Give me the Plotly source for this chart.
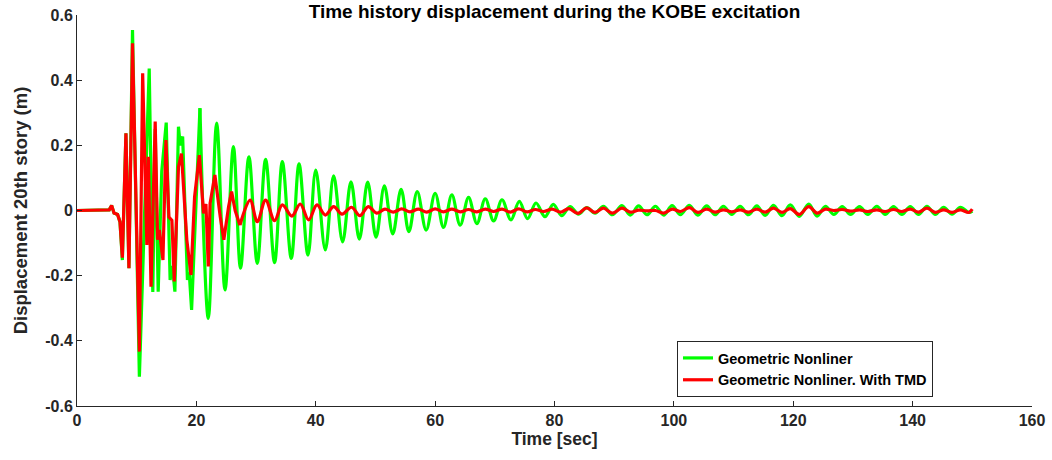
import plotly.graph_objects as go

# Peak / trough samples of the 20th-story displacement (m) versus time (s)
# Geometric nonlinear model without TMD
t_geo = [0, 4.4, 5.4, 5.8, 6.2, 6.8, 7.2, 7.6, 8.2, 8.7, 9.3, 10.45, 12.1, 12.7, 13.1, 13.6,
         14.2, 14.95, 15.6, 16.0, 16.4, 17.0, 17.3, 17.7, 18.5, 18.8, 19.2, 20.6,
         22.0, 23.4, 24.8, 26.2, 27.4, 28.8, 30.2, 31.6, 33.1, 34.4, 35.9, 37.2, 38.7, 40.0,
         41.6, 43.0, 44.5, 45.9, 47.3, 48.7, 50.1, 51.5, 52.9, 54.3, 55.6, 57.0, 58.5, 60.0,
         61.4, 62.8, 64.2, 65.6, 67.0, 68.4, 69.8, 71.2, 72.7, 74.1, 75.5, 76.9, 78.4, 79.8,
         81.2, 82.6, 84.0, 85.4, 86.8, 88.2, 89.7, 91.3, 92.7, 94.1, 95.5, 96.9, 98.3, 99.7,
         101.1, 102.6, 104.0, 105.5, 106.9, 108.3, 109.7, 111.1, 112.5, 113.9, 115.3, 116.7,
         118.1, 119.5, 121.0, 122.6, 124.0, 125.4, 126.8, 128.2, 129.6, 131.1, 132.5, 134.0,
         135.4, 136.8, 138.2, 139.6, 141.0, 142.4, 143.8, 145.2, 146.6, 148.0, 149.4, 150.0]
d_geo = [0, 0, 0.002, 0.015, -0.008, -0.012, -0.035, -0.152, 0.237, -0.177, 0.554, -0.51,
         0.436, -0.25, 0.25, -0.249, 0.12, 0.27, -0.213, -0.17, -0.249, 0.257, 0.2, 0.227,
         -0.213, -0.19, -0.305, 0.314,
         -0.331, 0.268, -0.244, 0.196, -0.177, 0.165, -0.162, 0.157, -0.160, 0.150, -0.147,
         0.143, -0.137, 0.124, -0.121, 0.106, -0.096, 0.088, -0.088, 0.087, -0.082, 0.076,
         -0.072, 0.065, -0.065, 0.058, -0.060, 0.053, -0.052, 0.048, -0.045, 0.040, -0.040,
         0.036, -0.032, 0.033, -0.029, 0.028, -0.025, 0.023, -0.019, 0.019, -0.016, 0.012,
         -0.011, 0.009, -0.008, 0.013, -0.013, 0.015, -0.014, 0.014, -0.013, 0.013, -0.014,
         0.015, -0.013, 0.016, -0.014, 0.014, -0.013, 0.013, -0.012, 0.013, -0.013, 0.014,
         -0.015, 0.016, -0.016, 0.017, -0.018, 0.020, -0.017, 0.013, -0.012, 0.012, -0.012,
         0.012, -0.012, 0.013, -0.012, 0.012, -0.012, 0.012, -0.012, 0.013, -0.012, 0.010,
         -0.011, 0.010, -0.006, -0.002]

# Geometric nonlinear model with tuned mass damper
t_tmd = [0, 4.4, 5.4, 5.8, 6.2, 6.8, 7.2, 7.6, 8.2, 8.7, 9.3, 10.45, 11.0, 11.7, 11.95, 12.4,
         13.1, 13.5, 13.8, 14.4, 14.9, 15.4, 15.9, 16.3, 17.0, 17.5, 18.4, 19.1, 19.7, 20.5,
         21.2, 21.6, 22.0, 22.3, 23.1, 24.0, 24.6, 25.4, 25.9, 26.5, 27.3,
         29.0, 30.2, 31.6, 33.1, 34.4, 36.0, 37.4, 38.8, 40.2, 41.6, 43.0, 44.4, 46.0, 47.4,
         48.8, 50.2, 51.6, 53.0, 54.4, 55.8, 57.2, 58.6, 60.0, 61.4, 62.8, 64.2, 65.6, 67.0,
         68.4, 69.8, 71.2, 72.6, 74.0, 75.4, 76.8, 78.2, 79.6, 81.0, 82.4, 83.9, 85.4, 86.8,
         88.2, 89.7, 91.3, 92.7, 94.1, 95.5, 96.9, 98.3, 99.7, 101.1, 102.6, 104.0, 105.5,
         106.9, 108.3, 109.7, 111.1, 112.5, 113.9, 115.3, 116.7, 118.1, 119.5, 121.0, 122.6,
         124.0, 125.4, 126.8, 128.2, 129.6, 131.1, 132.5, 134.0, 135.4, 136.8, 138.2, 139.6,
         141.0, 142.4, 143.8, 145.2, 146.6, 148.0, 149.4, 150.0]
d_tmd = [0, 0, 0.002, 0.015, -0.008, -0.012, -0.035, -0.145, 0.237, -0.177, 0.513, -0.433,
         0.421, -0.106, 0.165, -0.234, 0.273, -0.09, -0.06, -0.152, 0.216, -0.02, -0.03,
         -0.218, 0.134, 0.175, -0.09, -0.198, 0.042, 0.17, -0.009, 0.02, -0.172, 0.022,
         0.109, -0.019, -0.09, 0.012, 0.058, 0.0, -0.045,
         0.032, -0.034, 0.032, -0.031, 0.017, -0.017, 0.020, -0.029, 0.017, -0.014, 0.012,
         -0.011, 0.010, -0.016, 0.012, -0.008, 0.004, -0.005, 0.005, -0.004, 0.004, -0.005,
         0.005, -0.004, 0.004, -0.004, 0.003, -0.004, 0.004, -0.003, 0.004, -0.005, 0.005,
         -0.004, 0.003, -0.003, 0.004, -0.005, 0.006, -0.009, 0.008, -0.006, 0.007, -0.008,
         0.007, -0.005, 0.001, -0.001, 0.0, -0.008, 0.004, -0.003, 0.009, -0.006, 0.004,
         -0.005, 0.002, -0.004, 0.002, -0.005, 0.004, -0.005, 0.007, -0.006, 0.006, -0.012,
         0.012, -0.008, 0.004, 0.0, 0.003, -0.002, 0.002, -0.003, 0.002, -0.003, 0.003,
         -0.003, 0.004, -0.005, 0.007, -0.006, 0.002, -0.006, 0.002, -0.006, 0.004]

x_ticks = [0, 20, 40, 60, 80, 100, 120, 140, 160]
y_ticks = [-0.6, -0.4, -0.2, 0, 0.2, 0.4, 0.6]
y_tick_text = ["-0.6", "-0.4", "-0.2", "0", "0.2", "0.4", "0.6"]

GREEN = "#00FF00"
RED = "#FF0000"
FONT = "Liberation Sans, Arial, Helvetica, sans-serif"

# Plot-area placement in pixels
W, H = 1052, 460
L, R, T, B = 77, 20, 15, 54
PW, PH = W - L - R, H - T - B


def split_at(t, d, t_split):
    """Split a series into a jagged strong-motion part and a smooth free-vibration part."""
    k = max(i for i, v in enumerate(t) if v <= t_split)
    return (t[:k + 1], d[:k + 1]), (t[k:], d[k:])


fig = go.Figure()

for t, d, color, name, t_split in [
    (t_geo, d_geo, GREEN, "Geometric Nonliner", 20.6),
    (t_tmd, d_tmd, RED, "Geometric Nonliner. With TMD", 27.3),
]:
    (t1, d1), (t2, d2) = split_at(t, d, t_split)
    fig.add_trace(go.Scatter(x=t1, y=d1, mode="lines", name=name, legendgroup=name,
                             line=dict(color=color, width=3.2, shape="linear"),
                             showlegend=True))
    fig.add_trace(go.Scatter(x=t2, y=d2, mode="lines", name=name, legendgroup=name,
                             line=dict(color=color, width=3.2, shape="spline", smoothing=1.0),
                             showlegend=False))

axis_common = dict(
    showgrid=False, zeroline=False, showline=True, linecolor="#262626", linewidth=1,
    ticks="inside", ticklen=5, tickcolor="#262626", automargin=False,
    tickfont=dict(family=FONT, size=16, color="#262626", weight="bold"),
    mirror=False,
)

fig.update_layout(
    width=W, height=H,
    margin=dict(l=L, r=R, t=T, b=B, autoexpand=False),
    paper_bgcolor="white", plot_bgcolor="white",
    title=dict(text="<b>Time history displacement during the KOBE excitation</b>",
               x=(L + PW / 2) / W, xanchor="center", y=1 - 11 / H, yanchor="middle",
               font=dict(family=FONT, size=19, color="black")),
    xaxis=dict(range=[0, 160], tickvals=x_ticks,
               title=dict(text="<b>Time [sec]</b>", standoff=3,
                          font=dict(family=FONT, size=17.5, color="#262626")),
               **axis_common),
    yaxis=dict(range=[-0.6, 0.6], tickvals=y_ticks, ticktext=y_tick_text,
               title=dict(text="<b>Displacement 20th story (m)</b>", standoff=12,
                          font=dict(family=FONT, size=18.5, color="#262626")),
               **axis_common),
    legend=dict(x=(677 - L) / PW, y=(H - B - 341) / PH, xanchor="left", yanchor="top",
                bgcolor="white", bordercolor="#262626", borderwidth=1,
                font=dict(family=FONT, size=14.5, color="black", weight="bold"),
                tracegroupgap=0, itemwidth=30),
    showlegend=True,
)

fig.write_html("out.html")
